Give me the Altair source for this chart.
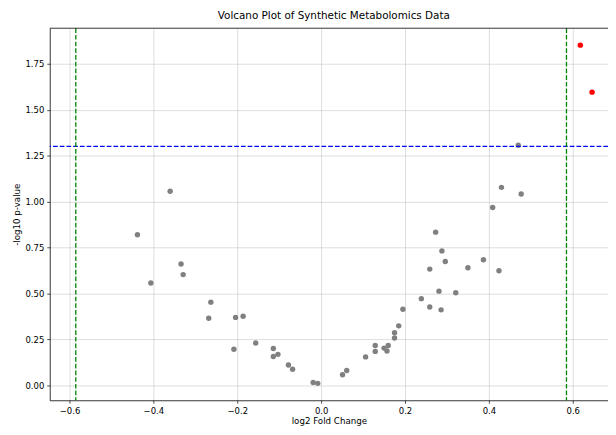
import altair as alt
import pandas as pd

# ---- data ----
log2_fc = [
    -0.438, -0.406, -0.360, -0.334, -0.329, -0.263, -0.268, -0.204, -0.186,
    -0.208, -0.156, -0.114, -0.114, -0.103, -0.078, -0.068, -0.019,
    -0.008, 0.051, 0.061, 0.106, 0.129, 0.129, 0.150, 0.157, 0.160, 0.175,
    0.175, 0.185, 0.195, 0.239, 0.259, 0.286, 0.281, 0.321, 0.259, 0.296,
    0.288, 0.273, 0.350, 0.387, 0.424, 0.409, 0.430, 0.477,
    0.470, 0.618, 0.646,
]
neg_log10_p = [
    0.820, 0.557, 1.057, 0.661, 0.603, 0.453, 0.365, 0.370, 0.376,
    0.197, 0.231, 0.201, 0.157, 0.169, 0.111, 0.088, 0.016,
    0.011, 0.058, 0.081, 0.155, 0.217, 0.185, 0.203, 0.187, 0.217, 0.258,
    0.287, 0.324, 0.414, 0.472, 0.427, 0.411, 0.513, 0.504, 0.633, 0.674,
    0.732, 0.834, 0.640, 0.684, 0.624, 0.968, 1.078, 1.042,
    1.307, 1.852, 1.596,
]
fc_threshold = 0.585
p_threshold = 1.301
x_ticks = [-0.6, -0.4, -0.2, 0.0, 0.2, 0.4, 0.6]
y_ticks = [0.0, 0.25, 0.5, 0.75, 1.0, 1.25, 1.5, 1.75]

df = pd.DataFrame({"log2FC": log2_fc, "nlp": neg_log10_p})
df["group"] = [
    "sig" if (p > p_threshold and abs(f) > fc_threshold) else "ns"
    for f, p in zip(log2_fc, neg_log10_p)
]

FONT = "DejaVu Sans"
# the reference figure is cropped on the right, so the visible x range ends at ~0.684
x_scale = alt.Scale(domain=[-0.6471, 0.684], nice=False, zero=False)
y_scale = alt.Scale(domain=[-0.081, 1.944], nice=False, zero=False)

x_enc = alt.X(
    "log2FC:Q", scale=x_scale,
    axis=alt.Axis(values=x_ticks, format=".1f", title="log2 Fold Change",
                  titlePadding=1.5),
)
y_enc = alt.Y(
    "nlp:Q", scale=y_scale,
    axis=alt.Axis(values=y_ticks, format=".2f", title="-log10 p-value"),
)

points = alt.Chart(df).mark_circle(size=30, opacity=1).encode(
    x=x_enc,
    y=y_enc,
    color=alt.Color(
        "group:N",
        scale=alt.Scale(domain=["ns", "sig"], range=["#808080", "#ff0000"]),
        legend=None,
    ),
)

hline = alt.Chart(pd.DataFrame({"nlp": [p_threshold]})).mark_rule(
    color="#0000ff", strokeDash=[4.75, 2.05], strokeWidth=1.4
).encode(y=alt.Y("nlp:Q", scale=y_scale))

vlines = alt.Chart(pd.DataFrame({"log2FC": [-fc_threshold, fc_threshold]})).mark_rule(
    color="#008000", strokeDash=[4.75, 2.05], strokeWidth=1.3
).encode(x=alt.X("log2FC:Q", scale=x_scale))

top_spine = alt.Chart(pd.DataFrame({"a": [0]})).mark_rule(
    color="black", strokeWidth=0.8
).encode(y=alt.value(0))

chart = (
    alt.layer(points, hline, vlines, top_spine)
    .properties(
        width=565.7,
        height=377,
        autosize=alt.AutoSizeParams(type="none"),
        padding={"left": 42.3, "top": 17.7, "right": 0, "bottom": 24.3},
        title=alt.TitleParams(
            "Volcano Plot of Synthetic Metabolomics Data",
            anchor="middle", frame="group", offset=5, baseline="alphabetic",
            font=FONT, fontSize=10.5, fontWeight="normal", color="black",
            dx=5, dy=7,
        ),
    )
    .configure_view(stroke=None)
    .configure_axis(
        domain=True, domainColor="black", domainWidth=0.8,
        grid=True, gridColor="#b0b0b0", gridWidth=0.7, gridOpacity=0.6,
        tickColor="black", tickSize=3, tickWidth=0.7,
        labelFont=FONT, labelFontSize=8.6, labelColor="black", labelPadding=3,
        titleFont=FONT, titleFontSize=8.8, titleFontWeight="normal",
        titleColor="black", titlePadding=3.4,
    )
)

chart.save("out.html", embed_options={"renderer": "svg", "actions": False})
